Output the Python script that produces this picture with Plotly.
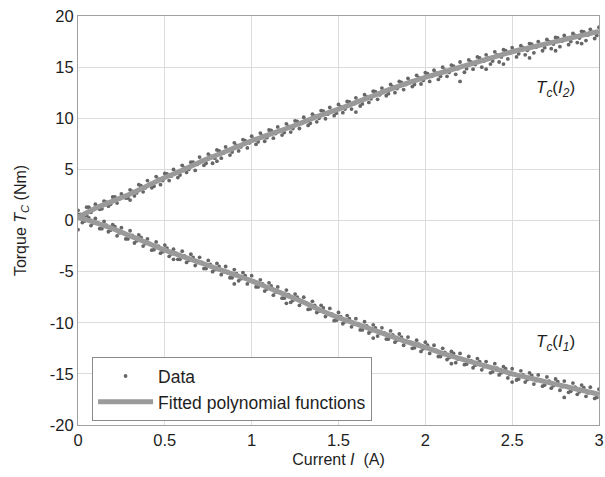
import plotly.graph_objects as go

# ---- data ----
data_x = [round(i * 0.025, 4) for i in range(121)]
data_x2 = [round(0.0125 + i * 0.025, 4) for i in range(120)]

upper_data = [0.5, 0.3, 1.3, 0.8, 1.6, 1.1, 1.9, 1.4, 2.3, 1.7, 2.6, 2.2, 3.0, 2.4, 3.5, 2.8,
              3.9, 3.2, 4.3, 3.5, 4.6, 3.9, 5.0, 4.2, 5.4, 4.7, 5.7, 4.9, 6.2, 5.4, 6.5, 5.6,
              6.9, 6.1, 7.2, 6.4, 7.6, 6.8, 7.9, 7.1,
              8.25, 7.45, 8.55, 7.75, 8.85, 8.05, 9.15, 8.35, 9.45, 8.65, 9.75, 9.0, 10.1, 9.3,
              10.4, 9.65, 10.75, 9.95, 11.05, 10.25, 11.35, 10.55, 11.65, 10.9, 12.0, 11.2,
              12.3, 11.55, 12.65, 11.85, 12.95, 12.2, 13.3, 12.5, 13.6, 12.8, 13.9, 13.1,
              14.2, 13.35, 14.45,
              13.6, 14.7, 13.8, 15.0, 14.1, 15.2, 14.3,
              15.5, 14.5, 15.7, 14.8, 16.0, 15.0, 16.2, 15.3, 16.5, 15.5, 16.7, 15.8, 16.9,
              16.0, 17.1, 16.2, 17.3, 16.4, 17.5, 16.6, 17.7, 16.8, 17.9, 17.0, 18.1, 17.2,
              18.3, 17.4, 18.5, 17.6, 18.7, 17.8, 18.9]

upper_data2 = [0.6, 0.55, 1.3, 1.05, 1.35, 1.15, 1.8, 1.6, 2.3, 2.1, 2.4, 2.2, 2.85, 2.7, 3.4,
               3.2, 3.55, 3.35, 4.05, 3.9, 4.55, 4.35, 4.7, 4.45, 5.15, 5.0, 5.7, 5.5, 5.8, 5.6,
               6.3, 6.1, 6.8, 6.6, 6.9, 6.7, 7.35, 7.2, 7.8, 7.6, 7.95, 7.7, 8.3, 8.1, 8.8, 8.5,
               8.8, 8.6, 9.2, 9.0, 9.7, 9.5, 9.8, 9.5, 10.2, 10.0, 10.7, 10.4, 10.7, 10.5, 11.1,
               10.9, 11.6, 11.4, 11.7, 11.4, 12.1, 11.9, 12.6, 12.3, 12.65, 12.4, 13.1, 12.9,
               13.5, 13.3, 13.6, 13.3, 13.95, 13.7, 14.35, 14.1, 14.4, 14.1, 14.7, 14.5, 15.1,
               14.85, 15.1, 14.85, 15.5, 15.25, 15.9, 15.6, 15.9, 15.6, 16.2, 16.0, 16.6, 16.35,
               16.6, 16.3, 16.9, 16.65, 17.25, 16.95, 17.2, 16.9, 17.5, 17.25, 17.85, 17.55,
               17.8, 17.5, 18.1, 17.85, 18.45, 18.15, 18.4, 18.1]

lower_data = [0.6, -0.2, 0.5, -0.5, 0.2, -0.8, -0.1, -1.1, -0.4, -1.5, -0.7, -1.8, -1.0, -2.2,
              -1.4, -2.5, -1.8, -2.9, -2.1, -3.2, -2.4, -3.5, -2.8, -3.8, -3.0, -4.1, -3.3,
              -4.4, -3.6, -4.7, -3.9, -5.0, -4.2, -5.3, -4.5, -5.6, -4.8, -5.9, -5.1, -6.2,
              -5.4, -6.5, -5.8, -6.9, -6.1, -7.3, -6.5, -7.6, -6.8, -8.0, -7.2, -8.3, -7.5,
              -8.7, -7.9, -9.0, -8.3, -9.4, -8.6, -9.8, -9.0, -10.1, -9.3, -10.4, -9.6, -10.7,
              -9.9, -11.0, -10.2, -11.3, -10.5, -11.6, -10.8, -11.9, -11.1, -12.2, -11.4,
              -12.5, -11.7, -12.8, -11.9, -13.0, -12.2, -13.3, -12.5, -13.6, -12.8, -13.9,
              -13.0, -14.1, -13.3, -14.4, -13.5, -14.6, -13.8, -14.9, -14.0, -15.1, -14.3,
              -15.4, -14.5, -15.6, -14.7, -15.8, -14.9, -16.0, -15.1, -16.2, -15.3, -16.4,
              -15.5, -16.6, -15.7, -16.8, -15.9, -17.0, -16.1, -17.2, -16.3, -17.4, -16.5]

lower_data2 = [0.4, -0.05, 0.25, -0.25, -0.2, -0.8, -0.45, -0.95, -0.6, -1.2, -1.2, -1.8, -1.45,
               -2.0, -1.65, -2.25, -2.25, -2.85, -2.5, -3.05, -2.7, -3.25, -3.2, -3.8, -3.45,
               -3.9, -3.6, -4.1, -4.1, -4.7, -4.3, -4.8, -4.5, -5.0, -5.0, -5.6, -5.2, -5.7,
               -5.4, -5.9, -5.95, -6.5, -6.2, -6.7, -6.4, -7.0, -7.0, -7.6, -7.25, -7.8, -7.5,
               -8.0, -8.05, -8.65, -8.3, -8.85, -8.55, -9.1, -9.15, -9.75, -9.4, -9.9, -9.6,
               -10.1, -10.1, -10.7, -10.3, -10.8, -10.5, -11.0, -11.0, -11.6, -11.2, -11.7,
               -11.4, -11.9, -11.9, -12.45, -12.1, -12.55, -12.2, -12.7, -12.7, -13.3, -12.9,
               -13.4, -13.0, -13.55, -13.5, -14.05, -13.7, -14.15, -13.8, -14.3, -14.3, -14.8,
               -14.45, -14.9, -14.5, -15.05, -15.0, -15.5, -15.1, -15.55, -15.15, -15.65, -15.6,
               -16.1, -15.7, -16.15, -15.75, -16.25, -16.2, -16.7, -16.3, -16.75, -16.35,
               -16.85, -16.8, -17.3]

outlier_x = [0.0, 0.0, 0.3, 0.8, 1.6, 2.2, 2.35, 2.45, 2.6, 2.75, 2.9,
             0.55, 0.9, 1.2, 1.7, 2.15, 2.5, 2.8]
outlier_y = [-0.9, 1.0, 2.0, 5.8, 10.6, 13.6, 14.8, 15.3, 15.9, 16.6, 17.3,
             -3.8, -6.2, -8.1, -11.5, -14.0, -15.8, -17.3]

fit_x = [round(i * 0.1, 1) for i in range(31)]
fit_upper = [0.3, 1.2, 1.9, 2.6, 3.4, 4.2, 4.9, 5.7, 6.4, 7.1, 7.8, 8.4, 9.0, 9.65, 10.3,
             10.9, 11.55, 12.2, 12.85, 13.45, 14.0, 14.5, 15.0, 15.5, 16.0, 16.5, 16.9,
             17.3, 17.7, 18.1, 18.5]
fit_lower = [0.3, -0.2, -0.8, -1.5, -2.2, -2.9, -3.5, -4.1, -4.7, -5.3, -5.9, -6.6, -7.3,
             -8.0, -8.8, -9.5, -10.1, -10.7, -11.3, -11.9, -12.4, -13.0, -13.5, -14.0,
             -14.5, -15.0, -15.4, -15.8, -16.2, -16.6, -17.0]

x_ticks = [0, 0.5, 1, 1.5, 2, 2.5, 3]
y_ticks = [-20, -15, -10, -5, 0, 5, 10, 15, 20]

FONT = "Liberation Sans, Arial, sans-serif"
TXT = "#1e1e1e"
DOT = "#666666"
LINE = "#9a9a9a"

fig = go.Figure()
all_x = data_x + data_x2 + data_x + data_x2 + outlier_x
all_y = upper_data + upper_data2 + lower_data + lower_data2 + outlier_y
fig.add_trace(go.Scatter(x=all_x, y=all_y, mode="markers", name="Data",
                         marker=dict(color=DOT, size=3.8, line=dict(width=0))))
fig.add_trace(go.Scatter(x=fit_x, y=fit_upper, mode="lines", name="Fitted polynomial functions",
                         line=dict(color=LINE, width=5), line_shape="spline"))
fig.add_trace(go.Scatter(x=fit_x, y=fit_lower, mode="lines", showlegend=False,
                         line=dict(color=LINE, width=5), line_shape="spline"))

fig.add_annotation(x=2.75, y=12.9, text="<i>T</i><sub><i>c</i></sub>(<i>I</i><sub><i>2</i></sub>)",
                   showarrow=False, font=dict(size=17, color=TXT, family=FONT))
fig.add_annotation(x=2.75, y=-12.0, text="<i>T</i><sub><i>c</i></sub>(<i>I</i><sub><i>1</i></sub>)",
                   showarrow=False, font=dict(size=17, color=TXT, family=FONT))

axis_common = dict(showgrid=True, gridcolor="#dcdcdc", gridwidth=1, showline=True,
                   linecolor="#a0a0a0", linewidth=1, mirror=True, zeroline=False,
                   ticks="", automargin=False, ticklabeloverflow="allow",
                   tickfont=dict(size=16.5, color=TXT, family=FONT))
fig.update_xaxes(range=[0, 3], tickvals=x_ticks, ticktext=[str(v) for v in x_ticks],
                 title=dict(text="Current <i>I</i>  (A)", font=dict(size=16, color=TXT, family=FONT),
                            standoff=6), **axis_common)
fig.update_yaxes(range=[-20, 20], tickvals=y_ticks, ticktext=[str(v) for v in y_ticks],
                 title=dict(text="Torque <i>T</i><sub><i>C</i></sub> (Nm)",
                            font=dict(size=16, color=TXT, family=FONT), standoff=19),
                 **axis_common)

fig.update_layout(
    width=605, height=477,
    margin=dict(l=78, r=6, t=16, b=52),
    plot_bgcolor="white", paper_bgcolor="white",
    font=dict(family=FONT, color=TXT),
    hovermode=False,
    legend=dict(x=0.027, y=0.166, xanchor="left", yanchor="top",
                bgcolor="white", bordercolor="#8a8a8a", borderwidth=1,
                font=dict(size=17.5, color=TXT, family=FONT), itemwidth=55,
                tracegroupgap=0),
)

# remove the default page margin so the figure fills the window exactly
fig.write_html("out.html",
               config={"displayModeBar": False, "staticPlot": True},
               post_script="document.body.style.margin='0';document.body.style.overflow='hidden';")
